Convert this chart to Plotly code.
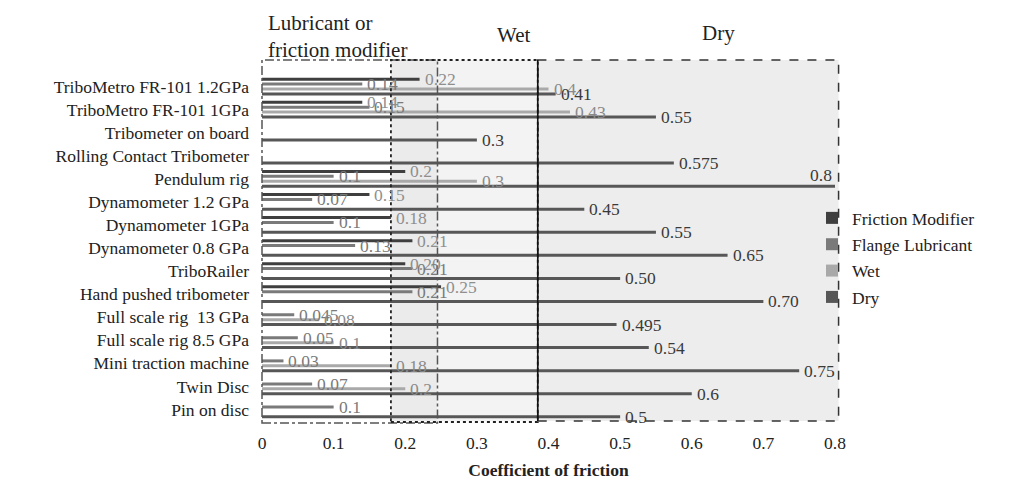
import plotly.graph_objects as go

categories = [
    "TriboMetro FR-101 1.2GPa",
    "TriboMetro FR-101 1GPa",
    "Tribometer on board",
    "Rolling Contact Tribometer",
    "Pendulum rig",
    "Dynamometer 1.2 GPa",
    "Dynamometer 1GPa",
    "Dynamometer 0.8 GPa",
    "TriboRailer",
    "Hand pushed tribometer",
    "Full scale rig  13 GPa",
    "Full scale rig 8.5 GPa",
    "Mini traction machine",
    "Twin Disc",
    "Pin on disc",
]

friction_modifier = [0.22, 0.14, None, None, 0.2, 0.15, 0.18, 0.21, 0.20, 0.25, None, None, None, None, None]
flange_lubricant = [0.14, 0.15, None, None, 0.1, 0.07, 0.1, 0.13, 0.21, 0.21, 0.045, 0.05, 0.03, 0.07, 0.1]
wet = [0.4, 0.43, None, None, 0.3, None, None, None, None, None, 0.08, 0.1, 0.18, 0.2, None]
dry = [0.41, 0.55, 0.3, 0.575, 0.8, 0.45, 0.55, 0.65, 0.50, 0.70, 0.495, 0.54, 0.75, 0.6, 0.5]

friction_modifier_labels = ["0.22", "0.14", "", "", "0.2", "0.15", "0.18", "0.21", "0.20", "0.25", "", "", "", "", ""]
flange_lubricant_labels = ["0.14", "0.15", "", "", "0.1", "0.07", "0.1", "0.13", "0.21", "0.21", "0.045", "0.05", "0.03", "0.07", "0.1"]
wet_labels = ["0.4", "0.43", "", "", "0.3", "", "", "", "", "", "0.08", "0.1", "0.18", "0.2", ""]
dry_labels = ["0.41", "0.55", "0.3", "0.575", "0.8", "0.45", "0.55", "0.65", "0.50", "0.70", "0.495", "0.54", "0.75", "0.6", "0.5"]

x_ticks = [0, 0.1, 0.2, 0.3, 0.4, 0.5, 0.6, 0.7, 0.8]
x_tick_labels = ["0", "0.1", "0.2", "0.3", "0.4", "0.5", "0.6", "0.7", "0.8"]

# regime boundaries on the friction axis
lubricant_edge = 0.245
wet_start = 0.18
dry_start = 0.385
dry_end = 0.805
x_max = 0.8

series = [
    ("Friction Modifier", friction_modifier, friction_modifier_labels, "#3f3f3f", "#8f8f8f", 7.35),
    ("Flange Lubricant", flange_lubricant, flange_lubricant_labels, "#7a7a7a", "#7a7a7a", 2.45),
    ("Wet", wet, wet_labels, "#a9a9a9", "#8a8a8a", -2.45),
    ("Dry", dry, dry_labels, "#575757", "#3a3a3a", -7.35),
]

SERIF = "Liberation Serif"
FS = 17.5

# page has an 8px body margin; work in reference-screen pixels and convert
OFF = 8
FW, FH = 1009 - OFF, 491 - OFF
plot_l, plot_r, plot_t, plot_b = 262, 835, 75, 421
L = plot_l - OFF
R = FW - (plot_r - OFF)
T = plot_t - OFF
B = FH - (plot_b - OFF)
W = plot_r - plot_l
H = plot_b - plot_t

def py(sy):
    return (plot_b - sy) / H

def px(sx):
    return (sx - plot_l) / W

def pv(v):
    return v / x_max

fig = go.Figure()
annotations = []
for name, vals, labels, color, lcolor, yoff in series:
    fig.add_bar(
        y=categories, x=vals, orientation="h", name=name,
        marker=dict(color=color, line=dict(width=0)),
        legendgroup=name,
    )
    for cat, v, lab in zip(categories, vals, labels):
        if v is None:
            continue
        if v >= x_max:
            annotations.append(dict(x=v, y=cat, xref="x", yref="y", text=lab, showarrow=False,
                                    xanchor="right", yanchor="middle", xshift=-1, yshift=yoff + 11,
                                    font=dict(family=SERIF, size=FS, color=lcolor)))
        else:
            annotations.append(dict(x=v, y=cat, xref="x", yref="y", text=lab, showarrow=False,
                                    xanchor="left", yanchor="middle", xshift=3, yshift=yoff,
                                    font=dict(family=SERIF, size=FS, color=lcolor)))

top_y = py(60)
bot_y = py(421)

shapes = [
    dict(type="rect", xref="paper", yref="paper", x0=pv(wet_start), x1=pv(lubricant_edge), y0=bot_y, y1=top_y,
         fillcolor="#ebebeb", line=dict(width=0), layer="below"),
    dict(type="rect", xref="paper", yref="paper", x0=pv(lubricant_edge), x1=pv(dry_start), y0=bot_y, y1=top_y,
         fillcolor="#f3f3f3", line=dict(width=0), layer="below"),
    dict(type="rect", xref="paper", yref="paper", x0=pv(dry_start), x1=pv(dry_end), y0=bot_y, y1=top_y,
         fillcolor="#ededed", line=dict(width=0), layer="below"),
    dict(type="rect", xref="paper", yref="paper", x0=0, x1=pv(lubricant_edge), y0=py(423), y1=top_y,
         line=dict(color="#555555", width=1.5, dash="dashdot"), fillcolor="rgba(0,0,0,0)", layer="above"),
    dict(type="rect", xref="paper", yref="paper", x0=pv(wet_start), x1=pv(dry_start), y0=py(422), y1=top_y,
         line=dict(color="#222222", width=1.8, dash="dot"), fillcolor="rgba(0,0,0,0)", layer="above"),
    dict(type="rect", xref="paper", yref="paper", x0=pv(dry_start), x1=pv(dry_end), y0=bot_y, y1=top_y,
         line=dict(color="#333333", width=1.5, dash="dash"), fillcolor="rgba(0,0,0,0)", layer="above"),
    dict(type="line", xref="paper", yref="paper", x0=pv(dry_start), x1=pv(dry_start), y0=bot_y, y1=top_y,
         line=dict(color="#111111", width=1.6), layer="above"),
]

annotations += [
    dict(xref="paper", yref="paper", x=px(266), y=py(9), xanchor="left", yanchor="top",
         text="Lubricant or<br>friction modifier", showarrow=False, align="left",
         font=dict(family=SERIF, size=21, color="#222222")),
    dict(xref="paper", yref="paper", x=px(513), y=py(35), xanchor="center", yanchor="middle",
         text="Wet", showarrow=False, font=dict(family=SERIF, size=21, color="#222222")),
    dict(xref="paper", yref="paper", x=px(718), y=py(33), xanchor="center", yanchor="middle",
         text="Dry", showarrow=False, font=dict(family=SERIF, size=21, color="#222222")),
]

fig.update_layout(
    width=FW, height=FH,
    margin=dict(l=L, r=R, t=T, b=B, pad=0, autoexpand=False),
    paper_bgcolor="white", plot_bgcolor="rgba(0,0,0,0)",
    barmode="group", bargap=0.15, bargroupgap=0.39,
    font=dict(family=SERIF, size=FS, color="#222222"),
    shapes=shapes, annotations=annotations,
    showlegend=True,
    legend=dict(
        x=px(812), y=py(200), xanchor="left", yanchor="top",
        traceorder="grouped", tracegroupgap=0.6,
        font=dict(family=SERIF, size=FS, color="#222222"),
        bgcolor="rgba(0,0,0,0)", itemwidth=30,
    ),
    xaxis=dict(
        range=[0, x_max], tickvals=x_ticks, ticktext=x_tick_labels,
        showgrid=False, zeroline=False, showline=False, ticks="",
        ticklabelstandoff=9, automargin=False,
        tickfont=dict(family=SERIF, size=FS, color="#222222"),
        title=dict(text="<b>Coefficient of friction</b>", standoff=12,
                   font=dict(family=SERIF, size=FS, color="#222222")),
    ),
    yaxis=dict(
        type="category", range=[len(categories) - 0.5, -0.5], autorange=False,
        showgrid=False, zeroline=False, showline=False, ticks="",
        ticklabelstandoff=12, automargin=False,
        tickfont=dict(family=SERIF, size=FS, color="#222222"),
    ),
)

fig.write_html("out.html")
